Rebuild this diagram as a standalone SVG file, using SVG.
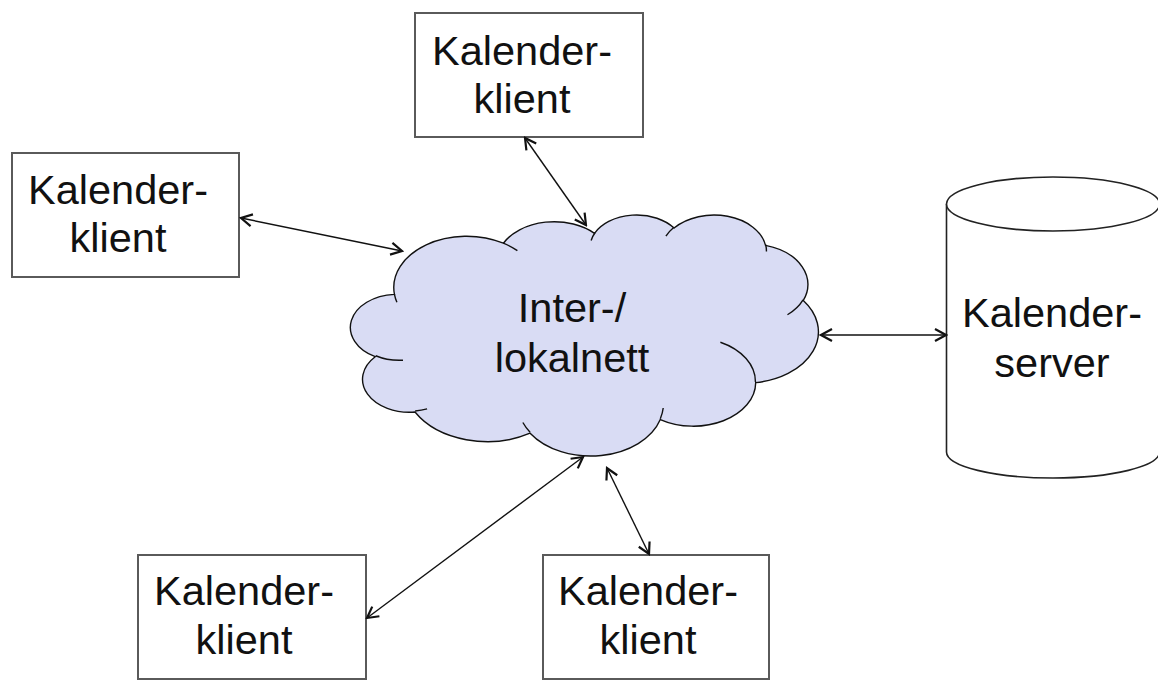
<svg xmlns="http://www.w3.org/2000/svg" width="1158" height="680" viewBox="0 0 1158 680">
<style>
.box{fill:#fff;stroke:#5a5a5a;stroke-width:2}
.lbl{font-family:"Liberation Sans",Arial,sans-serif;font-size:41.5px;fill:#111;text-anchor:middle}
.conn{stroke:#111;stroke-width:1.4;fill:none;marker-start:url(#ah);marker-end:url(#ah)}
</style>
<defs>
<marker id="ah" viewBox="-14 -8 16 16" markerWidth="16" markerHeight="16" refX="0" refY="0" orient="auto-start-reverse" markerUnits="userSpaceOnUse">
<path d="M-11,-6 L0,0 L-11,6" fill="none" stroke="#111" stroke-width="2.2"/>
</marker>
</defs>
<rect width="1158" height="680" fill="#fff"/>
<g id="cloud">
<g transform="translate(352.4,214.2) scale(0.010782,0.005577)">
<path d="M3900,14370 A6753,9190 0 0,1 14005,5202 A5333,7267 0 0,1 22457,3435 A4365,5945 0 0,1 29834,2483 A4857,6595 0 0,1 38319,5579 A5333,7273 0 0,1 41820,15462 A6775,9220 0 0,1 37405,30205 A5785,7867 0 0,1 28557,36816 A6752,9215 0 0,1 16482,39269 A7720,10543 0 0,1 5807,35475 A4360,5918 0 0,1 2115,25554 A4345,5945 0 0,1 3900,14370 Z" fill="#d9dcf4" stroke="#111" stroke-width="1.4" vector-effect="non-scaling-stroke"/>
<path d="M4693,26177 A4345,5945 0 0,1 2160,25380 M6928,34899 A4360,5918 0 0,1 5820,35281 M16478,39090 A6752,9215 0 0,1 15809,37348 M28827,34751 A6752,9215 0 0,1 28560,36660 M34129,22954 A5785,7867 0 0,1 37381,30090 M41798,15354 A5333,7273 0 0,1 40350,18030 M38324,5426 A4857,6595 0 0,1 38401,6690 M29078,3952 A4857,6595 0 0,1 29820,2340 M22141,4720 A4365,5945 0 0,1 22500,3331 M14000,5192 A6753,9190 0 0,1 15302,6543 M4127,15789 A6753,9190 0 0,1 3900,14371" fill="none" stroke="#111" stroke-width="1.4" vector-effect="non-scaling-stroke"/>
</g>
<text class="lbl" x="572" y="322">Inter-/</text>
<text class="lbl" x="572" y="372">lokalnett</text>
</g>
<g id="client-top">
<rect class="box" x="415" y="13" width="228" height="124"/>
<text class="lbl" x="522" y="65">Kalender-</text>
<text class="lbl" x="522" y="113">klient</text>
</g>
<g id="client-left">
<rect class="box" x="12" y="153" width="227" height="124"/>
<text class="lbl" x="118" y="204">Kalender-</text>
<text class="lbl" x="118" y="252">klient</text>
</g>
<g id="client-bottom-left">
<rect class="box" x="138" y="555" width="228" height="124"/>
<text class="lbl" x="244" y="605">Kalender-</text>
<text class="lbl" x="244" y="654">klient</text>
</g>
<g id="client-bottom-right">
<rect class="box" x="543" y="555" width="226" height="124"/>
<text class="lbl" x="648" y="605">Kalender-</text>
<text class="lbl" x="648" y="654">klient</text>
</g>
<g id="server">
<path d="M946.5,204 L946.5,452 A106.5,26 0 0,0 1159.5,452 L1159.5,204" fill="#fff" stroke="#222" stroke-width="1.6"/>
<ellipse cx="1053" cy="204" rx="106.5" ry="27" fill="#fff" stroke="#222" stroke-width="1.6"/>
<text class="lbl" x="1052" y="327">Kalender-</text>
<text class="lbl" x="1052" y="377">server</text>
</g>
<g id="connectors">
<line class="conn" x1="525" y1="138" x2="586" y2="225"/>
<line class="conn" x1="241" y1="218" x2="402" y2="251"/>
<line class="conn" x1="821" y1="335" x2="946" y2="335"/>
<line class="conn" x1="367" y1="618" x2="583" y2="457"/>
<line class="conn" x1="607" y1="468" x2="649" y2="554"/>
</g>
</svg>
